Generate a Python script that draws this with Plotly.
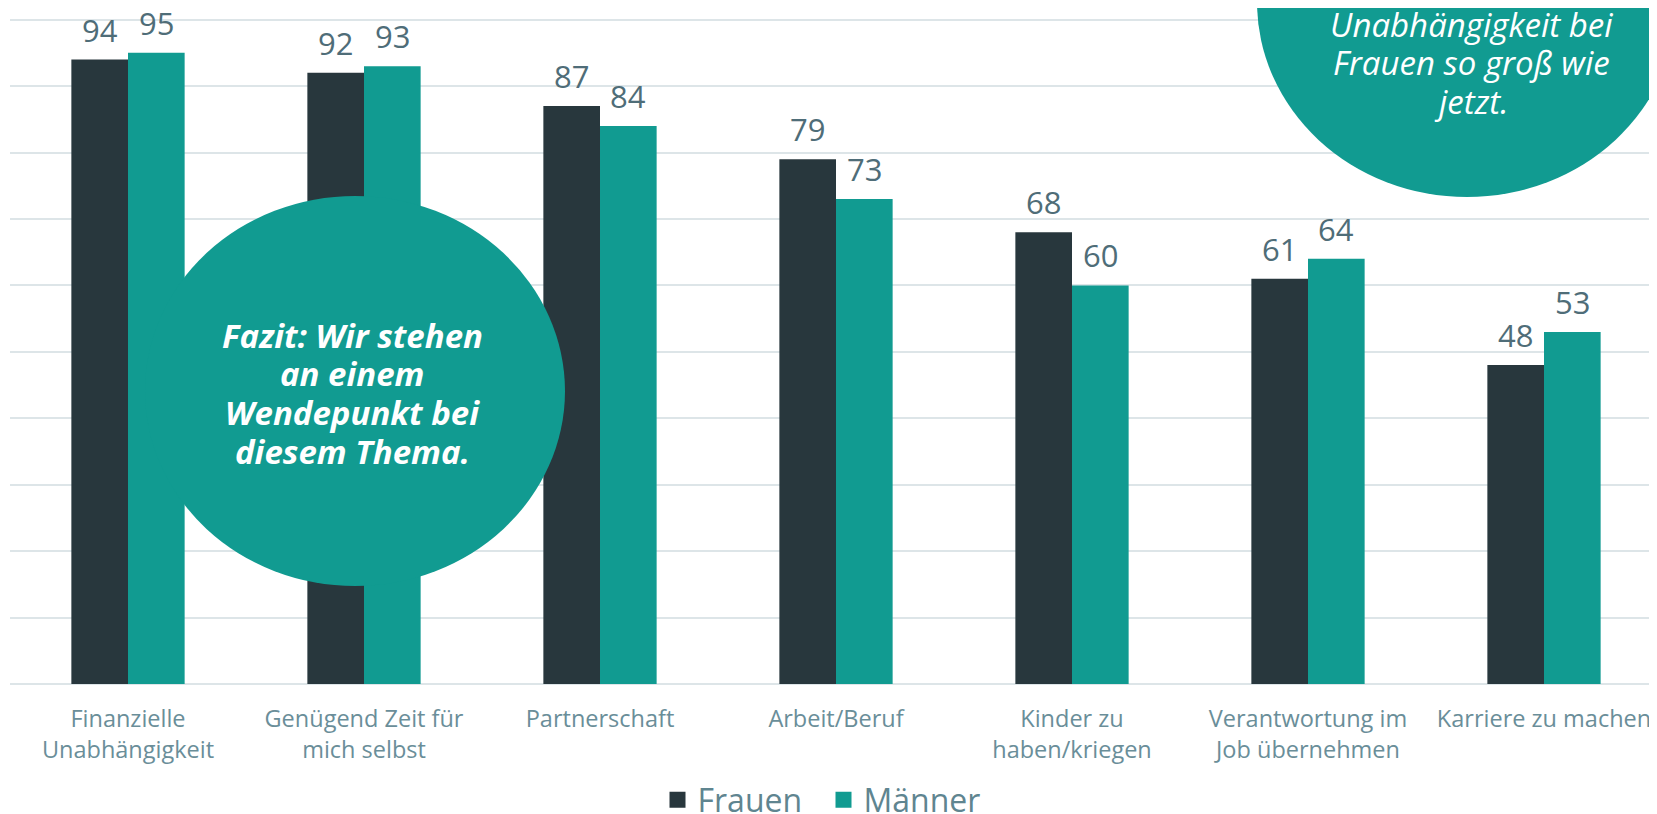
import plotly.graph_objects as go

categories = [
    "Finanzielle<br>Unabhängigkeit",
    "Genügend Zeit für<br>mich selbst",
    "Partnerschaft",
    "Arbeit/Beruf",
    "Kinder zu<br>haben/kriegen",
    "Verantwortung im<br>Job übernehmen",
    "Karriere zu machen",
]
frauen = [94, 92, 87, 79, 68, 61, 48]
maenner = [95, 93, 84, 73, 60, 64, 53]

callout_left = ["Fazit: Wir stehen", "an einem", "Wendepunkt bei", "diesem Thema."]
callout_right = ["Unabhängigkeit bei", "Frauen so groß wie", "jetzt."]

C_DARK = "#28373d"
C_TEAL = "#119b91"
TXT = "#4f6d78"
TICK = "#6a8e99"
FONT = "'Open Sans', sans-serif"

# page body has an 8px margin; size figure to fit the window
OFF = 8
W, H = 1657 - OFF, 814 - OFF
ML, MR, MT, MB = 2, 0, 5, 130
PW = W - ML - MR
PH = H - MT - MB
CAT_PX = 236.0
BARGAP = 0.52
BAR_PX = CAT_PX * (1 - BARGAP) / 2


def fx(p):
    """window pixel x -> paper x"""
    return (p - OFF - ML) / PW


def fy(p):
    """window pixel y -> paper y"""
    return (H - MB - (p - OFF)) / PH


fig = go.Figure()
fig.add_trace(go.Bar(
    x=categories, y=frauen, name="Frauen", marker=dict(color=C_DARK, line=dict(width=0)),
    showlegend=False,
))
fig.add_trace(go.Bar(
    x=categories, y=maenner, name="Männer", marker=dict(color=C_TEAL, line=dict(width=0)),
    showlegend=False,
))
for nm, col in [("Frauen", C_DARK), ("Männer", C_TEAL)]:
    fig.add_trace(go.Scatter(
        x=[None], y=[None], mode="markers", name=nm,
        marker=dict(symbol="square", size=19, color=col),
    ))

# value labels above bars
for vals, sh in [(frauen, -BAR_PX / 2), (maenner, BAR_PX / 2)]:
    for c, v in zip(categories, vals):
        fig.add_annotation(
            x=c, y=v, xref="x", yref="y", text=str(v), showarrow=False,
            xanchor="center", yanchor="bottom", xshift=sh, yshift=7,
            font=dict(size=31, color=TXT, family=FONT),
        )

fig.add_shape(type="circle", xref="paper", yref="paper",
              x0=fx(145), x1=fx(565), y0=fy(586), y1=fy(196),
              fillcolor=C_TEAL, line=dict(width=0), layer="above")
fig.add_shape(type="circle", xref="paper", yref="paper",
              x0=fx(1257), x1=fx(1677), y0=fy(197), y1=fy(-193),
              fillcolor=C_TEAL, line=dict(width=0), layer="above")

for i, line in enumerate(callout_left):
    fig.add_annotation(
        xref="paper", yref="paper", x=fx(352), y=fy(335 + 38.7 * i),
        text="<b><i>" + line + "</i></b>",
        showarrow=False, align="center", xanchor="center", yanchor="middle",
        font=dict(size=33, color="white", family=FONT),
    )
for i, line in enumerate(callout_right):
    fig.add_annotation(
        xref="paper", yref="paper", x=fx(1471), y=fy(24 + 38.5 * i),
        text="<i>" + line + "</i>",
        showarrow=False, align="center", xanchor="center", yanchor="middle",
        font=dict(size=33, color="white", family=FONT),
    )

span = PW / CAT_PX
fig.update_layout(
    width=W, height=H,
    margin=dict(l=ML, r=MR, t=MT, b=MB),
    paper_bgcolor="white", plot_bgcolor="white",
    barmode="group", bargap=BARGAP, bargroupgap=0,
    font=dict(family=FONT, color=TXT),
    xaxis=dict(
        range=[-0.5, -0.5 + span], showgrid=False, showline=False, zeroline=False,
        ticks="outside", ticklen=14, tickcolor="rgba(0,0,0,0)",
        tickfont=dict(size=23.5, color=TICK, family=FONT),
        tickangle=0,
    ),
    yaxis=dict(
        range=[0, 101], tickvals=list(range(0, 101, 10)), showgrid=True,
        gridcolor="#dde5e8", gridwidth=1.5,
        zeroline=True, zerolinecolor="#dde5e8", zerolinewidth=1.5,
        showticklabels=False, fixedrange=True,
    ),
    legend=dict(
        orientation="h", xref="container", yref="container",
        x=0.5 - 9 / W, xanchor="center", y=1 - (800 - OFF) / H, yanchor="middle",
        font=dict(size=32, color="#5f8590", family=FONT),
        itemwidth=30, tracegroupgap=0, entrywidth=121,
    ),
)

fig.write_html("out.html")
